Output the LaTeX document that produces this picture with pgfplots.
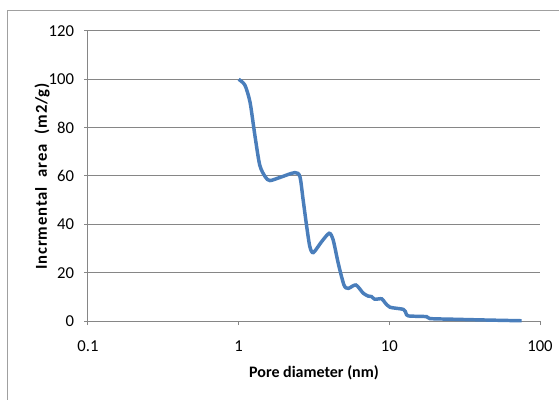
\documentclass[border=0pt]{standalone}
\usepackage{fontspec}
\setmainfont{Carlito}
\usepackage{pgfplots}
\pgfplotsset{compat=1.18}
\definecolor{serie}{HTML}{4A7EBB}
\definecolor{gridc}{HTML}{868686}
\definecolor{frame}{HTML}{A0A0A0}
\pgfplotstableread{
x y
1.00 100
1.10 97.6
1.19 90.5
1.28 77
1.38 64.5
1.50 59.7
1.61 58.1
1.88 59.4
2.36 61.4
2.55 59.7
2.68 50
2.83 39
2.97 30.7
3.13 28.3
3.55 32.8
3.99 36.3
4.24 33.5
4.58 23.9
5.0 14.9
5.34 13.5
6.0 14.9
6.71 11.5
7.25 10.3
7.63 10.1
8.0 9
8.9 9.2
9.35 7.6
10.1 5.7
12.4 4.8
12.9 3.2
13.4 2.1
17.7 1.8
18.6 1.0
27.9 0.7
44.2 0.4
75.5 0.1
}\datatable
\begin{document}
\begin{tikzpicture}[x=0.75pt,y=0.75pt]
\useasboundingbox (-88,-78) rectangle (471,321);
\draw[color=frame, line width=0.75pt] (-80,-120) -- (-80,310) -- (520,310);
\begin{axis}[
  at={(0,0)}, anchor=south west,
  scale only axis, width=339pt, height=217.5pt,
  xmode=log, xmin=0.1, xmax=100, ymin=0, ymax=120,
  xtick={0.1,1,10,100}, xticklabels={0.1,1,10,100},
  minor xtick={}, xminorticks=false,
  ytick={0,20,...,120},
  ymajorgrids, grid style={gridc, line width=0.75pt},
  axis x line=bottom, axis y line=left,
  axis line style={-, gridc, line width=0.75pt},
  tick style={gridc, line width=0.75pt},
  tick align=outside, major tick length=3pt,
  /pgf/number format/assume math mode=true,
  ticklabel style={font=\fontsize{12.5}{14}\selectfont, text=black},
  yticklabel style={xshift=-4pt},
  xticklabel style={yshift=-8.5pt},
  xlabel={\textbf{Pore diameter (nm)}},
  ylabel={\addfontfeature{LetterSpace=5}\textbf{Incrmental\hspace{4pt} area\hspace{4pt} (m2/g)}},
  label style={font=\fontsize{12.5}{14}\selectfont},
  xlabel style={at={(axis description cs:0.5,-0.1793)}, anchor=center, font=\fontsize{12}{14}\selectfont},
  ylabel style={at={(axis description cs:-0.1018,0.5)}, anchor=center},
  clip=false,
]
\addplot[serie, line width=2.6pt, smooth, tension=0.45] table[x=x,y=y] {\datatable};
\end{axis}
\end{tikzpicture}
\end{document}
